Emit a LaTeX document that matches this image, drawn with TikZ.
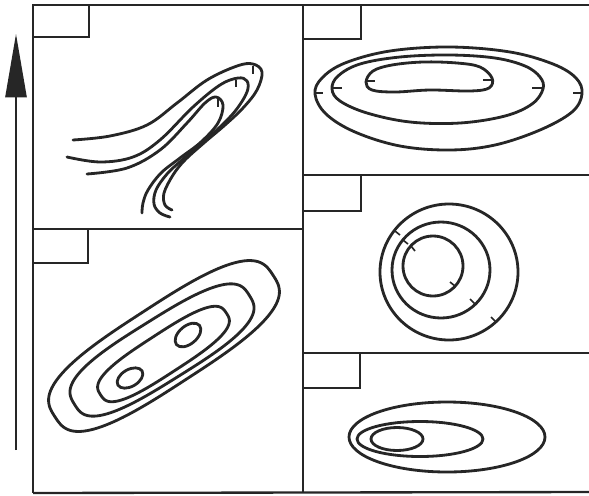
\documentclass[tikz,border=0pt]{standalone}
\usetikzlibrary{arrows.meta}

\begin{document}
\begin{tikzpicture}[
        x=0.03cm, y=-0.03cm,
        frame/.style={draw=black!85, line width=2pt},
        tagbox/.style={draw=black!85, line width=1.2pt},
        contour/.style={draw=black!85, line width=2.4pt, line cap=round, line join=round},
        tickmark/.style={draw=black!85, line width=1.4pt},
        axisline/.style={draw=black!85, line width=1.3pt, -{Triangle[length=1.9cm, width=0.64cm]}}
    ]
        \useasboundingbox (0,0) rectangle (589,495);

        % panel frame
        \draw[frame] (33,5) -- (589,5);
        \draw[frame] (33,5) -- (33,493);
        \draw[frame] (33,493) -- (589,492);
        \draw[frame] (303,5) -- (303,493);
        \draw[frame] (33,229) -- (303,229);
        \draw[frame] (303,175) -- (589,175);
        \draw[frame] (303,353) -- (589,353);

        % corner boxes
        \draw[tagbox] (33,5) rectangle (89,37);
        \draw[tagbox] (33,229) rectangle (88,263);
        \draw[tagbox] (303,5) rectangle (361,39);
        \draw[tagbox] (303,175) rectangle (361,211);
        \draw[tagbox] (303,353) rectangle (360,388);

        % vertical axis
        \coordinate (axisfoot) at (16,450);
        \coordinate (axistip) at (16,34);
        \draw[axisline] (axisfoot) -- (axistip);

        % top left: bent tongues
        \draw[contour] plot[smooth, tension=0.6] coordinates {(73,140) (110,136) (147,125) (177,103) (207,80) (237,66) (253,64) (262,72) (257,90) (243,108) (225,125) (205,142) (185,160) (173,175) (164,193) (165,205) (172,210)};
        \draw[contour] plot[smooth, tension=0.6] coordinates {(67,157) (100,162) (133,157) (160,140) (193,107) (220,85) (238,78) (247,81) (247,92) (236,110) (220,127) (203,142) (182,160) (167,174) (156,190) (154,204) (160,213) (170,217)};
        \draw[contour] plot[smooth, tension=0.6] coordinates {(87,174) (127,168) (160,150) (187,123) (205,103) (216,97) (223,105) (218,123) (201,142) (180,158) (161,173) (148,190) (143,203) (142,213)};
        \draw[tickmark] (253,66) -- (253,74);
        \draw[tickmark] (236,80) -- (236,87);
        \draw[tickmark] (218,99) -- (218,107);

        % top right: flat rings
        \draw[contour] plot[smooth cycle, tension=0.6] coordinates {(315,94) (322,78) (345,63) (390,51) (450,47) (510,52) (553,64) (576,78) (582,94) (572,112) (540,130) (495,145) (450,150) (400,146) (355,132) (326,114)};
        \draw[contour] plot[smooth cycle, tension=0.6] coordinates {(332,89) (338,76) (360,64) (400,57) (450,55) (495,58) (525,66) (540,77) (543,89) (532,104) (505,116) (460,123) (410,122) (367,113) (340,101)};
        \draw[contour] plot[smooth cycle, tension=0.6] coordinates {(366,82) (373,71) (392,65) (423,62) (457,63) (480,67) (492,78) (489,88) (470,91) (430,90) (395,92) (372,90)};
        \draw[tickmark] (315,93) -- (323,93);
        \draw[tickmark] (582,93) -- (573,93);
        \draw[tickmark] (332,88) -- (342,88);
        \draw[tickmark] (543,88) -- (532,88);
        \draw[tickmark] (366,81) -- (375,81);
        \draw[tickmark] (492,80) -- (483,80);

        % middle right: nested circles
        \draw[contour] (449,272) ellipse [x radius=69, y radius=68];
        \draw[contour] (441,270) ellipse [x radius=49, y radius=48];
        \draw[contour] (433,266) ellipse [x radius=30, y radius=30];
        \draw[tickmark] (395,231) -- (400,235);
        \draw[tickmark] (496,322) -- (491,317);
        \draw[tickmark] (403,240) -- (408,244);
        \draw[tickmark] (475,304) -- (470,299);
        \draw[tickmark] (411,246) -- (415,251);
        \draw[tickmark] (455,286) -- (450,282);

        % bottom right: shifted ellipses
        \draw[contour] (447,437) ellipse [x radius=98, y radius=35];
        \draw[contour] (420,439) ellipse [x radius=63, y radius=17.5];
        \draw[contour] (397,439) ellipse [x radius=26, y radius=11.5];

        % bottom left: tilted ridge with two peaks
        \draw[contour, shift={(164,346)}, rotate=33] plot[smooth cycle, domain=1:358, samples=120] ({130*sign(cos(\x))*pow(abs(cos(\x)),0.667)}, {40*sign(sin(\x))*pow(abs(sin(\x)),0.667)});
        \draw[contour, shift={(162,350)}, rotate=32] plot[smooth cycle, domain=1:358, samples=120] ({103*sign(cos(\x))*pow(abs(cos(\x)),0.667)}, {31*sign(sin(\x))*pow(abs(sin(\x)),0.667)});
        \draw[contour, shift={(163.5,354)}, rotate=33] plot[smooth cycle, domain=1:358, samples=120] ({75*sign(cos(\x))*pow(abs(cos(\x)),0.667)}, {20*sign(sin(\x))*pow(abs(sin(\x)),0.667)});
        \draw[contour, rotate around={40:(188,335)}] (188,335) ellipse [x radius=15, y radius=9];
        \draw[contour, rotate around={30:(130,378)}] (130,378) ellipse [x radius=14, y radius=8.5];

    \end{tikzpicture}
\end{document}
